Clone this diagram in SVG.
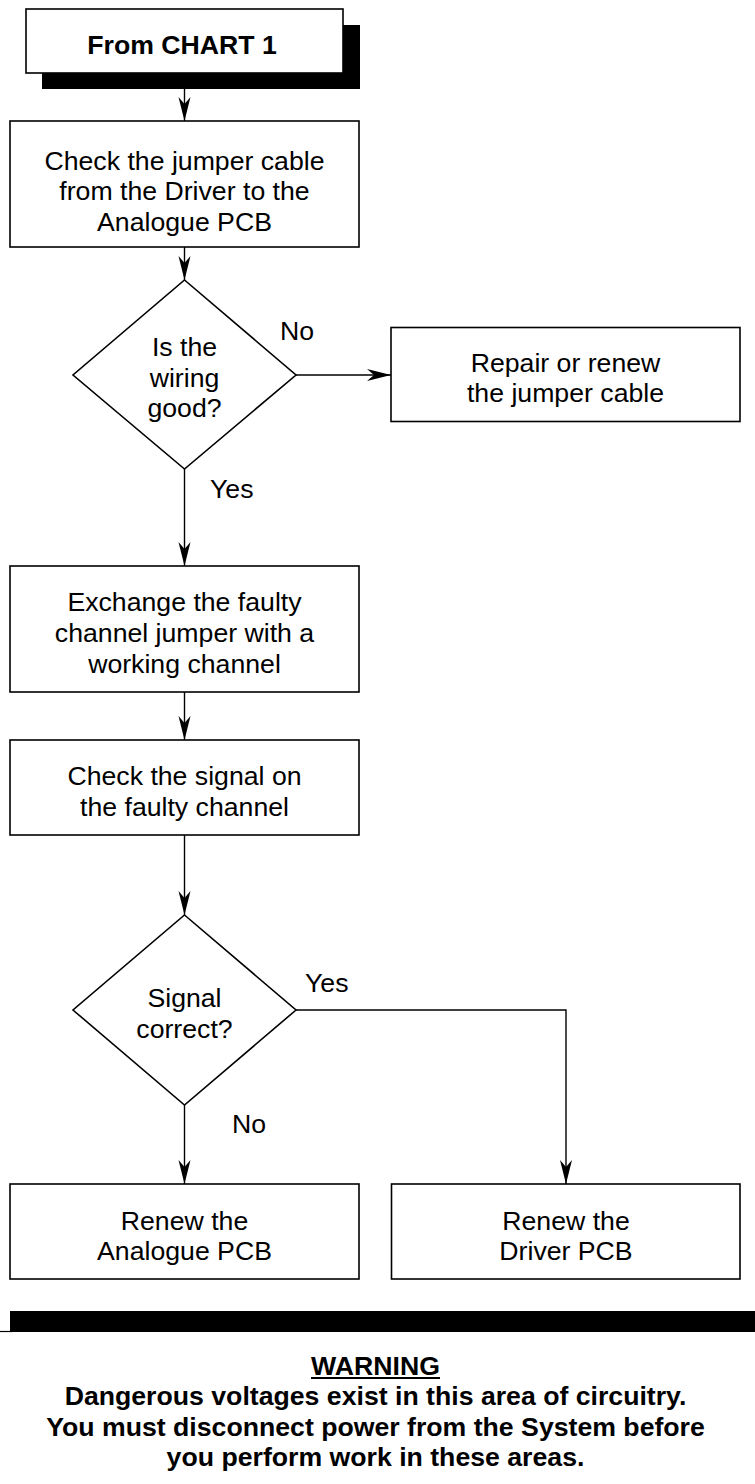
<svg xmlns="http://www.w3.org/2000/svg" width="755" height="1484" viewBox="0 0 755 1484">
<style>
.box{fill:#fff;stroke:#000;stroke-width:1.6}
.t{font-family:"Liberation Sans",Arial,sans-serif;font-size:26.67px;fill:#000;text-anchor:middle}
.lbl{font-family:"Liberation Sans",Arial,sans-serif;font-size:26.67px;fill:#000}
.b{font-weight:bold}
.ln{fill:none;stroke:#000;stroke-width:1.4}
</style>
<defs>
<marker id="ah" markerUnits="userSpaceOnUse" markerWidth="26" markerHeight="14" refX="24" refY="6" orient="auto" viewBox="0 0 26 12">
<path d="M24,6 L0,0 L7,6 L0,12 Z" fill="#000"/>
</marker>
</defs>
<rect width="755" height="1484" fill="#fff"/>
<g id="connectors">
<line class="ln" x1="184.5" y1="89" x2="184.5" y2="121" marker-end="url(#ah)"/>
<line class="ln" x1="184.5" y1="247" x2="184.5" y2="280" marker-end="url(#ah)"/>
<line class="ln" x1="296" y1="375" x2="391" y2="375" marker-end="url(#ah)"/>
<line class="ln" x1="184.5" y1="469" x2="184.5" y2="566" marker-end="url(#ah)"/>
<line class="ln" x1="184.5" y1="692" x2="184.5" y2="740" marker-end="url(#ah)"/>
<line class="ln" x1="184.5" y1="835" x2="184.5" y2="915" marker-end="url(#ah)"/>
<line class="ln" x1="184.5" y1="1105" x2="184.5" y2="1184" marker-end="url(#ah)"/>
<polyline class="ln" points="296,1010 566,1010 566,1184" marker-end="url(#ah)"/>
<text class="lbl" x="280" y="340">No</text>
<text class="lbl" x="210" y="498">Yes</text>
<text class="lbl" x="305" y="992">Yes</text>
<text class="lbl" x="232" y="1133">No</text>
</g>
<g id="start">
<rect x="42" y="25" width="318" height="64" fill="#000"/>
<rect class="box" x="26" y="9" width="317" height="64"/>
<text class="t b" x="182" y="54">From CHART 1</text>
</g>
<g id="check-cable">
<rect class="box" x="10" y="121" width="349" height="126"/>
<text class="t" x="184.5" y="169.5">Check the jumper cable</text>
<text class="t" x="184.5" y="200">from the Driver to the</text>
<text class="t" x="184.5" y="230.5">Analogue PCB</text>
</g>
<g id="wiring-good">
<polygon class="box" points="184.5,280 296,375 184.5,469 73,375"/>
<text class="t" x="184.5" y="356">Is the</text>
<text class="t" x="184.5" y="386.5">wiring</text>
<text class="t" x="184.5" y="417">good?</text>
</g>
<g id="repair">
<rect class="box" x="391" y="327.5" width="349" height="94"/>
<text class="t" x="565.5" y="371.5">Repair or renew</text>
<text class="t" x="565.5" y="402">the jumper cable</text>
</g>
<g id="exchange">
<rect class="box" x="10" y="566" width="349" height="126"/>
<text class="t" x="184.5" y="610.5">Exchange the faulty</text>
<text class="t" x="184.5" y="641.5">channel jumper with a</text>
<text class="t" x="184.5" y="672.5">working channel</text>
</g>
<g id="check-signal">
<rect class="box" x="10" y="740" width="349" height="95"/>
<text class="t" x="184.5" y="785">Check the signal on</text>
<text class="t" x="184.5" y="816">the faulty channel</text>
</g>
<g id="signal-correct">
<polygon class="box" points="184.5,915 296,1010 184.5,1105 73,1010"/>
<text class="t" x="184.5" y="1007">Signal</text>
<text class="t" x="184.5" y="1038">correct?</text>
</g>
<g id="renew-analogue">
<rect class="box" x="10" y="1184" width="349" height="95"/>
<text class="t" x="184.5" y="1230">Renew the</text>
<text class="t" x="184.5" y="1260">Analogue PCB</text>
</g>
<g id="renew-driver">
<rect class="box" x="391.5" y="1184" width="348.5" height="95"/>
<text class="t" x="566" y="1230">Renew the</text>
<text class="t" x="566" y="1260">Driver PCB</text>
</g>
<g id="warning">
<rect x="10" y="1311" width="745" height="21" fill="#000"/>
<line x1="0" y1="1331.5" x2="12" y2="1331.5" stroke="#000" stroke-width="1.2"/>
<text class="t b" x="375.5" y="1375">WARNING</text>
<line x1="311" y1="1378" x2="440" y2="1378" stroke="#000" stroke-width="2"/>
<text class="t b" x="375.5" y="1405">Dangerous voltages exist in this area of circuitry.</text>
<text class="t b" x="375.5" y="1436">You must disconnect power from the System before</text>
<text class="t b" x="375.5" y="1466">you perform work in these areas.</text>
</g>
</svg>
